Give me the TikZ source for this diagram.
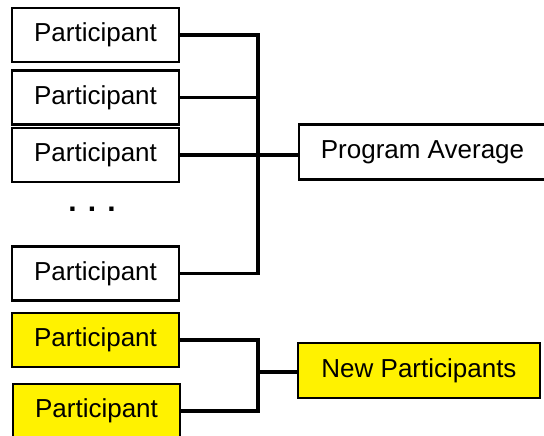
\documentclass[tikz,border=0pt]{standalone}
\usepackage{fontspec}
\setmainfont{Liberation Sans}
\usetikzlibrary{calc}
\tikzset{
	pbox/.style={draw=black, line width=2.5pt, fill=white, minimum width=167pt, minimum height=54pt, inner sep=0pt, font=\fontsize{26}{30}\selectfont},
	hibox/.style={pbox, fill=yellow},
	wire/.style={line width=3.2pt, line cap=rect},
}
\begin{document}
\begin{tikzpicture}[x=1pt, y=-1pt]
			%%%%% START %%%%%
			
			\useasboundingbox (0, 0) rectangle (544, 436);
			\clip (0, 0) rectangle (544, 436);
			
			\node[pbox] (part1) at (95.5, 35) {Participant};
			\node[pbox] (part2) at (95.5, 97.5) {Participant};
			\node[pbox] (part3) at (95.5, 155) {Participant};
			\node[font=\fontsize{30}{30}\selectfont\bfseries] (dots) at (92, 209) {. . .};
			\node[pbox] (part4) at (95.5, 273.5) {Participant};
			
			\node[hibox] (newpart1) at (95.5, 340) {Participant};
			\node[hibox] (newpart2) at (96.5, 411) {Participant};
			
			\node[pbox, minimum width=247pt, minimum height=55pt] (avg) at (422.5, 152) {Program Average};
			\node[hibox, minimum width=242pt, minimum height=55pt] (newavg) at (419, 370.5) {New Participants};
			
			\coordinate (bus) at (258, 155);
			\coordinate (ybus) at (258, 372);
			
			\draw[wire] (part1.east) -- (part1.east -| bus) -- (part4.east -| bus) -- (part4.east);
			\draw[wire] (part2.east) -- (part2.east -| bus);
			\draw[wire] (part3.east) -- (part3.east -| avg.west);
			
			\draw[wire] (newpart1.east) -- (newpart1.east -| ybus) -- (newpart2.east -| ybus) -- (newpart2.east);
			\draw[wire] (ybus) -- (ybus -| newavg.west);
			
			%%%%% END %%%%%
\end{tikzpicture}
\end{document}
